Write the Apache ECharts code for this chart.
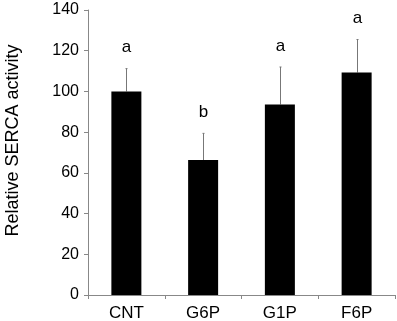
<!DOCTYPE html>
<html>
<head>
<meta charset="utf-8">
<script src="https://cdn.jsdelivr.net/npm/echarts@6/dist/echarts.min.js"></script>
<style>
  html, body { margin: 0; padding: 0; background: #fff; }
  #chart { width: 397px; height: 321px; }
</style>
</head>
<body>
<div id="chart"></div>
<script>
var categories = ["CNT", "G6P", "G1P", "F6P"];
var activity = [100, 66.3, 93.6, 109.3];
var errorTop = [111.2, 79.4, 112, 125.5];
var letters = ["a", "b", "a", "a"];
var yTicks = { min: 0, max: 140, interval: 20 };

var font = "Liberation Sans, Arial, sans-serif";
var axisColor = "#888";

var errData = categories.map(function (c, i) {
  return [i, activity[i], errorTop[i], letters[i]];
});

var chart = echarts.init(document.getElementById("chart"));

var option = {
  animation: false,
  grid: { left: 88, right: 2, top: 10, bottom: 26, outerBoundsMode: "none" },
  xAxis: {
    type: "category",
    data: categories,
    axisLine: { lineStyle: { color: axisColor } },
    axisTick: { show: true, length: 4, lineStyle: { color: axisColor } },
    axisLabel: { color: "#000", fontFamily: font, fontSize: 17, margin: 10 },
  },
  yAxis: {
    type: "value",
    min: yTicks.min,
    max: yTicks.max,
    interval: yTicks.interval,
    name: "Relative SERCA activity",
    nameLocation: "middle",
    nameGap: 66,
    // shift name a bit upward along the axis
    nameTextStyle: { color: "#000", fontFamily: font, fontSize: 18, padding: [0, 0, 0, 24] },
    axisLine: { show: true, lineStyle: { color: axisColor } },
    axisTick: { show: true, length: 4, lineStyle: { color: axisColor } },
    splitLine: { show: false },
    axisLabel: { color: "#000", fontFamily: font, fontSize: 16, margin: 9 },
  },
  series: [
    {
      type: "bar",
      data: activity,
      barWidth: 30,
      itemStyle: { color: "#000" },
      z: 3,
    },
    {
      // error bars (upper only) and significance letters
      type: "custom",
      data: errData,
      z: 2,
      renderItem: function (params, api) {
        var base = api.coord([api.value(0), api.value(1)]);
        var top = api.coord([api.value(0), api.value(2)]);
        var x = Math.round(base[0]) + 0.5;
        var style = { stroke: "#777", lineWidth: 1 };
        return {
          type: "group",
          children: [
            { type: "line", shape: { x1: x, y1: base[1], x2: x, y2: top[1] }, style: style },
            { type: "line", shape: { x1: x - 1, y1: top[1], x2: x + 1, y2: top[1] }, style: style },
            {
              type: "text",
              style: {
                text: letters[params.dataIndex],
                x: x,
                y: top[1] - 21,
                fill: "#000",
                font: "17px " + font,
                align: "center",
                verticalAlign: "middle",
              },
            },
          ],
        };
      },
    },
  ],
};

chart.setOption(option);
</script>
</body>
</html>
